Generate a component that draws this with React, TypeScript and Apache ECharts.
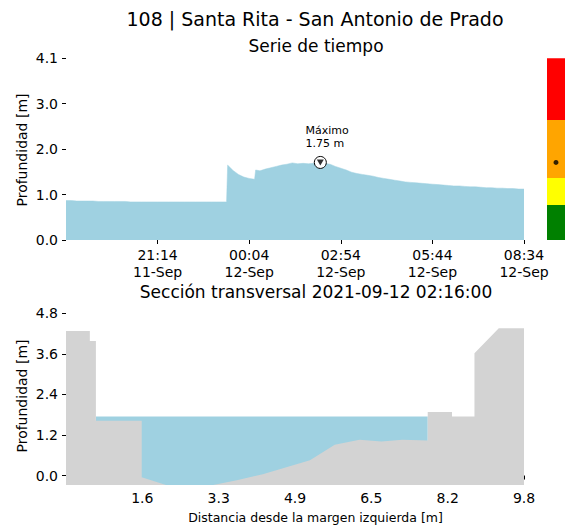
import React, { useEffect, useRef } from "react";
import * as echarts from "echarts";

// ---------- Time series (11-Sep 18:24 -> 12-Sep 08:34) ----------
const times = [
  "18:24", "18:34", "18:44", "18:54", "19:04", "19:14", "19:24", "19:34", "19:44", "19:54",
  "20:04", "20:14", "20:24", "20:34", "20:44", "20:54", "21:04", "21:14", "21:24", "21:34",
  "21:44", "21:54", "22:04", "22:14", "22:24", "22:34", "22:44", "22:54", "23:04", "23:14",
  "23:22", "23:24", "23:34", "23:44", "23:54", "00:04", "00:14", "00:16", "00:24", "00:34",
  "00:44", "00:54", "01:04", "01:14", "01:24", "01:34", "01:44", "01:54", "02:04", "02:16",
  "02:24", "02:34", "02:44", "02:54", "03:04", "03:14", "03:24", "03:34", "03:44", "03:54",
  "04:04", "04:14", "04:24", "04:34", "04:44", "04:54", "05:04", "05:14", "05:24", "05:34",
  "05:44", "05:54", "06:04", "06:14", "06:24", "06:34", "06:44", "06:54", "07:04", "07:14",
  "07:24", "07:34", "07:44", "07:54", "08:04", "08:14", "08:24", "08:34",
];
const depths = [
  0.89, 0.89, 0.88, 0.88, 0.88, 0.88, 0.87, 0.87, 0.87, 0.87,
  0.87, 0.87, 0.86, 0.86, 0.86, 0.86, 0.86, 0.86, 0.86, 0.86,
  0.86, 0.86, 0.86, 0.86, 0.86, 0.86, 0.86, 0.86, 0.86, 0.86,
  0.86, 1.69, 1.57, 1.48, 1.42, 1.39, 1.37, 1.58, 1.56, 1.60,
  1.63, 1.66, 1.69, 1.71, 1.74, 1.72, 1.73, 1.72, 1.73, 1.75,
  1.73, 1.71, 1.66, 1.62, 1.58, 1.53, 1.50, 1.48, 1.46, 1.44,
  1.41, 1.39, 1.37, 1.35, 1.33, 1.31, 1.30, 1.29, 1.28, 1.27,
  1.26, 1.25, 1.24, 1.23, 1.22, 1.22, 1.21, 1.20, 1.20, 1.19,
  1.18, 1.18, 1.17, 1.17, 1.16, 1.16, 1.15, 1.15,
];
const timeTickMinutes = [170, 340, 510, 680, 850];
const timeTickLabels = ["21:14\n11-Sep", "00:04\n12-Sep", "02:54\n12-Sep", "05:44\n12-Sep", "08:34\n12-Sep"];
const depthTickValues = [0, 1.025, 2.05, 3.075, 4.1];
const depthTickLabels = ["0.0", "1.0", "2.0", "3.0", "4.1"];

// ---------- Alert levels (colour bar) ----------
const alertLimits = [0.79, 1.4, 2.71, 4.1];
const alertColors = ["#008000", "#ffff00", "#ffa500", "#ff0000"];

// ---------- Cross-section ----------
const groundX = [0, 0.51, 0.51, 0.64, 0.64, 1.62, 1.62, 2.14, 3.15, 3.68, 4.21, 5.22, 5.75, 6.28, 6.75, 7.2, 7.74, 7.74, 8.26, 8.26, 8.74, 8.74, 9.26, 9.8];
const groundY = [4.28, 4.28, 3.98, 3.98, 1.62, 1.62, -0.05, -0.28, -0.28, -0.13, 0.04, 0.45, 0.91, 1.06, 1.01, 1.06, 1.04, 1.88, 1.88, 1.75, 1.75, 3.62, 4.36, 4.36];
const waterLevel = 1.75;
const waterFromX = 0.64;
const waterToX = 7.74;
const distTickValues = [1.633, 3.267, 4.9, 6.533, 8.167, 9.8];
const sectionDepthTicks = [0, 1.2, 2.4, 3.6, 4.8];

const FONT = "DejaVu Sans";
const BLUE = "#9fd1e1";
const GREY = "#d3d3d3";

function toOffsets(list: string[]): number[] {
  const out: number[] = [];
  let prev = -1;
  let add = 0;
  let first = 0;
  list.forEach((t, i) => {
    const [h, m] = t.split(":").map(Number);
    let v = h * 60 + m;
    if (v + add < prev) add += 1440;
    v += add;
    if (i === 0) first = v;
    prev = v;
    out.push(v - first);
  });
  return out;
}

export default function App() {
  const ref = useRef<HTMLDivElement>(null);
  useEffect(() => {
    if (!ref.current) return;
    const chart = echarts.init(ref.current, null, { renderer: "svg" });
    const offs = toOffsets(times);
    const series = offs.map((o, i) => [o, depths[i]]);
    let mi = 0;
    depths.forEach((d, i) => { if (d > depths[mi]) mi = i; });
    const maxPt = [offs[mi], depths[mi]];
    const ground = groundX.map((x, i) => [x, groundY[i]]);
    const alertSegs = alertLimits.map((l, i) => l - (i === 0 ? 0 : alertLimits[i - 1]));

    const tickStyle = { show: true, length: 4, lineStyle: { color: "#000", width: 1 } };
    const lblBase = { color: "#000", fontFamily: FONT, fontSize: 14 };

    chart.setOption({
      animation: false,
      grid: [
        { left: 66, right: 41, top: 58.3, bottom: 289 },
        { left: 66, right: 41, top: 313.3, bottom: 44 },
        { left: 547, right: 0, top: 58.3, bottom: 289 },
      ],
      xAxis: [
        {
          type: "value", gridIndex: 0, min: 0, max: 850,
          axisLine: { show: false }, splitLine: { show: false },
          axisTick: { ...tickStyle, customValues: timeTickMinutes },
          axisLabel: {
            ...lblBase, lineHeight: 17, margin: 6, customValues: timeTickMinutes,
            formatter: (v: number) => {
              const i = timeTickMinutes.findIndex((t) => Math.abs(t - v) < 1e-6);
              return i >= 0 ? timeTickLabels[i] : "";
            },
          },
        },
        {
          type: "value", gridIndex: 1, min: 0, max: 9.8,
          axisLine: { show: false }, splitLine: { show: false },
          axisTick: { ...tickStyle, customValues: distTickValues },
          axisLabel: {
            ...lblBase, margin: 6, customValues: distTickValues,
            formatter: (v: number) => v.toFixed(1),
          },
        },
        { type: "category", gridIndex: 2, data: ["nivel"], show: false },
      ],
      yAxis: [
        {
          type: "value", gridIndex: 0, min: 0, max: 4.1,
          axisLine: { show: false }, splitLine: { show: false },
          axisTick: { ...tickStyle, customValues: depthTickValues },
          axisLabel: {
            ...lblBase, margin: 8, customValues: depthTickValues,
            formatter: (v: number) => {
              const i = depthTickValues.findIndex((t) => Math.abs(t - v) < 1e-6);
              return i >= 0 ? depthTickLabels[i] : "";
            },
          },
        },
        {
          type: "value", gridIndex: 1, min: -0.28, max: 4.8,
          axisLine: { show: false }, splitLine: { show: false },
          axisTick: { ...tickStyle, customValues: sectionDepthTicks },
          axisLabel: {
            ...lblBase, margin: 8, customValues: sectionDepthTicks,
            formatter: (v: number) => v.toFixed(1),
          },
        },
        { type: "value", gridIndex: 2, min: 0, max: 4.1, show: false },
      ],
      series: [
        {
          type: "line", xAxisIndex: 0, yAxisIndex: 0, data: series,
          showSymbol: false, lineStyle: { width: 0.5, color: BLUE },
          areaStyle: { color: BLUE, opacity: 1, origin: "start" }, z: 2,
        },
        {
          type: "scatter", xAxisIndex: 0, yAxisIndex: 0, data: [maxPt],
          symbol: "circle", symbolSize: 12,
          itemStyle: { color: "#fff", borderColor: "#000", borderWidth: 1, opacity: 1 },
          label: {
            show: true, position: [-8.3, -31.5], align: "left", verticalAlign: "top",
            fontFamily: FONT, fontSize: 11, lineHeight: 12.5, color: "#000",
            formatter: () => `Máximo\n${depths[mi].toFixed(2)} m`,
          },
          z: 5,
        },
        {
          type: "scatter", xAxisIndex: 0, yAxisIndex: 0, data: [maxPt],
          symbol: "triangle", symbolRotate: 180, symbolSize: [7, 6],
          itemStyle: { color: "#000" }, z: 6,
        },
        {
          type: "line", xAxisIndex: 1, yAxisIndex: 1,
          data: [[waterFromX, waterLevel], [waterToX, waterLevel]],
          showSymbol: false, lineStyle: { width: 0 },
          areaStyle: { color: BLUE, opacity: 1, origin: "start" }, z: 2,
        },
        {
          type: "line", xAxisIndex: 1, yAxisIndex: 1, data: ground,
          showSymbol: false, lineStyle: { width: 0 },
          areaStyle: { color: GREY, opacity: 1, origin: "start" }, z: 3,
        },
        ...alertSegs.map((s, i) => ({
          type: "bar", xAxisIndex: 2, yAxisIndex: 2, stack: "alert",
          data: [s], barWidth: "100%", barCategoryGap: "0%",
          itemStyle: { color: alertColors[i] }, z: 2,
        })),
        {
          type: "scatter", xAxisIndex: 2, yAxisIndex: 2, data: [["nivel", depths[mi]]],
          symbol: "circle", symbolSize: 5, itemStyle: { color: "#000" }, z: 5,
        },
      ],
      graphic: [
        {
          type: "text", x: 315, y: 19,
          style: { text: "108 | Santa Rita - San Antonio de Prado", fontFamily: FONT, fontSize: 19, fill: "#000", align: "center", verticalAlign: "middle" },
        },
        {
          type: "text", x: 316, y: 46,
          style: { text: "Serie de tiempo", fontFamily: FONT, fontSize: 17, fill: "#000", align: "center", verticalAlign: "middle" },
        },
        {
          type: "text", x: 316, y: 292,
          style: { text: "Sección transversal 2021-09-12 02:16:00", fontFamily: FONT, fontSize: 17, fill: "#000", align: "center", verticalAlign: "middle" },
        },
        {
          type: "text", x: 315.5, y: 517,
          style: { text: "Distancia desde la margen izquierda [m]", fontFamily: FONT, fontSize: 12.5, fill: "#000", align: "center", verticalAlign: "middle" },
        },
        {
          type: "text", x: 22, y: 150, rotation: Math.PI / 2,
          style: { text: "Profundidad [m]", fontFamily: FONT, fontSize: 14, fill: "#000", align: "center", verticalAlign: "middle" },
        },
        {
          type: "text", x: 22, y: 396, rotation: Math.PI / 2,
          style: { text: "Profundidad [m]", fontFamily: FONT, fontSize: 14, fill: "#000", align: "center", verticalAlign: "middle" },
        },
      ],
    });
    return () => chart.dispose();
  }, []);
  return (
    <div
      ref={ref}
      style={{ position: "fixed", left: 0, top: 0, width: 565, height: 529, background: "#fff" }}
    />
  );
}
